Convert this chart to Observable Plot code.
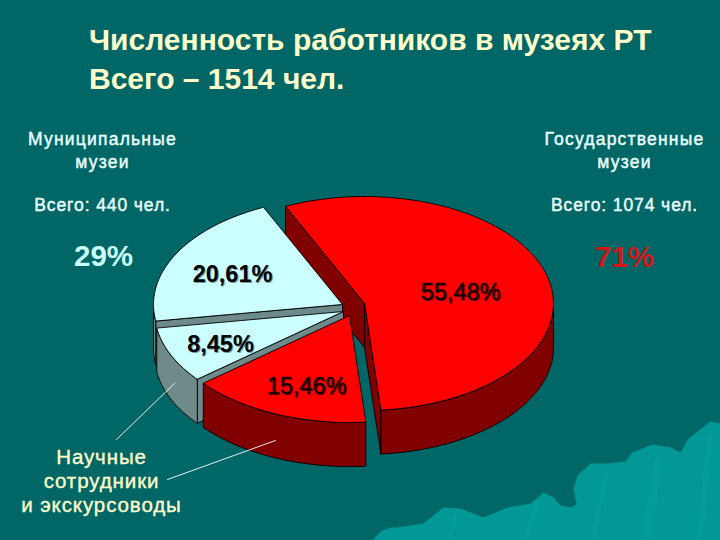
<!DOCTYPE html>
<html lang="ru">
<head>
<meta charset="utf-8">
<script src="https://cdn.jsdelivr.net/npm/d3@7"></script>
<script src="https://cdn.jsdelivr.net/npm/@observablehq/plot@0.6"></script>
<style>
html,body{margin:0;padding:0;width:720px;height:540px;overflow:hidden;background:#006666;}
h1{margin:0;padding:20px 0 0 89px;height:100px;box-sizing:border-box;font:bold 30px/39px "Liberation Sans",Arial,sans-serif;color:#ffffcc;letter-spacing:0;}
svg{display:block;}
.sp{letter-spacing:1.2px;}
.sp3{letter-spacing:.9px;}
.sp2{letter-spacing:.9px;}
</style>
</head>
<body>
<h1>Численность работников в музеях РТ<br>Всего – 1514 чел.</h1>
<div id="chart"></div>
<script>
// ---- chart values ----
const sliceLabels = ["55,48%", "15,46%", "8,45%", "20,61%"];
const sliceShares = [55.48, 15.46, 8.45, 20.61];
const sliceFamily = ["red", "red", "pale", "pale"];
const groupNames = ["Муниципальные\nмузеи", "Государственные\nмузеи"];
const groupTotals = ["Всего: 440 чел.", "Всего: 1074 чел."];
const groupPercents = ["29%", "71%"];
const note = ["Научные", "сотрудники", "и экскурсоводы"];

// ---- drawing layout (exploded 3-D pie) ----
const rx = 189, ry = 107, depth = 44, startDeg = -24.7;
const apexX = [364, 349, 343, 342];
const apexY = [303, 315, 311, 304];
const paintOrder = [0, 3, 2, 1];
const labelX = [460, 306, 220, 232];
const labelY = [299, 393, 351, 281];
const topColor = {red: "#ff0000", pale: "#ccffff"};
const wallColor = {red: "#800000", pale: "#6f8a8a"};
const mountainX = [372,380,390,397,423,443,460,470,483,507,530,543,553,560,570,576,573,577,590,607,625,632,652,670,680,688,710,720,720];
const mountainY = [540,531,527,527,523,507,508,512,517,507,503,492,497,505,507,504,488,475,463,463,461,452,444,447,452,438,421,423,540];
const ridgeX = [[445,455,458,449,438],[522,535,540,528,520],[590,604,608,594,580],[640,655,662,650,635],[695,708,712,702,690]];
const ridgeY = [[540,510,514,540,540],[540,498,502,540,540],[540,470,474,540,540],[540,456,462,540,540],[540,430,436,540,540]];

// ---- geometry computed from the shares ----
const rad = d => d * Math.PI / 180;
const arcs = d3.pie().sort(null).value(d => d)
  .startAngle(rad(startDeg)).endAngle(rad(startDeg + 360))(sliceShares);
const pt = (i, a, dy = 0) => ({x: apexX[i] + rx * Math.sin(a), y: apexY[i] - ry * Math.cos(a) + dy});
const arcPts = (i, a0, a1, dy = 0) => {
  const n = Math.max(2, Math.ceil(Math.abs(a1 - a0) / rad(1.5)));
  return d3.range(n + 1).map(k => pt(i, a0 + (a1 - a0) * k / n, dy));
};
const poly = (points, fill, strokeWidth = 0.9) =>
  Plot.line([...points, points[0]], {x: "x", y: "y", fill, stroke: "#000", strokeWidth, curve: "linear"});

const pieMarks = [];
paintOrder.forEach(i => {
  const s = arcs[i];
  const fam = sliceFamily[i], wall = wallColor[fam], top = topColor[fam];
  const c = {x: apexX[i], y: apexY[i]}, cb = {x: apexX[i], y: apexY[i] + depth};
  // a cut face shows only when it faces the viewer
  if (Math.sin(s.startAngle) < 0) pieMarks.push(poly([c, pt(i, s.startAngle), pt(i, s.startAngle, depth), cb], wall));
  if (Math.sin(s.endAngle) > 0) pieMarks.push(poly([c, pt(i, s.endAngle), pt(i, s.endAngle, depth), cb], wall));
  const lo = Math.max(s.startAngle, rad(90)), hi = Math.min(s.endAngle, rad(270));
  if (hi > lo) {
    pieMarks.push(poly([...arcPts(i, lo, hi), ...arcPts(i, hi, lo, depth)], wall));
  }
  pieMarks.push(poly([c, ...arcPts(i, s.startAngle, s.endAngle)], top));
});

const font = '"Liberation Sans", Arial, sans-serif';
const txt = (text, x, y, o = {}) => Plot.text([text], {
  text: d => d, x: () => x, y: () => y, textAnchor: "middle", lineAnchor: "bottom",
  fontFamily: font, ...o
});
const mountain = d3.range(mountainX.length).map(i => ({x: mountainX[i], y: mountainY[i]}));
const ridges = ridgeX.map((xs, r) => xs.map((x, i) => ({x, y: ridgeY[r][i]})));
const fillOnly = (pts, fill, fillOpacity = 1) => Plot.line([...pts, pts[0]], {x: "x", y: "y", fill, fillOpacity, stroke: "none", curve: "linear"});

const plot = Plot.plot({
  width: 720, height: 440,
  margin: 0,
  x: {domain: [0, 720], range: [0, 720], axis: null},
  y: {domain: [100, 540], range: [0, 440], axis: null},
  style: {background: "transparent", fontFamily: font, overflow: "hidden"},
  marks: [
    fillOnly(mountain, "#019896"),
    ...ridges.map(r => fillOnly(r, "#0aa3a0", 0.35)),
    ...pieMarks,
    // slice labels
    ...sliceLabels.flatMap((t, i) => {
      const red = sliceFamily[i] === "red";
      return [
        txt(t, labelX[i] + 1, labelY[i] + 1, {fontSize: 23.5, fontWeight: red ? "normal" : "bold",
          fill: red ? "#700000" : "#7a9a9a"}),
        txt(t, labelX[i], labelY[i], {fontSize: 23.5, fontWeight: red ? "normal" : "bold",
          fill: red ? "#1a0000" : "#000", stroke: red ? "#1a0000" : "none", strokeWidth: red ? 0.4 : 0})
      ];
    }),
    // group captions
    txt(groupNames[0], 102, 167, {fontSize: 17.5, fill: "#eaffff", className: "sp", lineHeight: 1.27, stroke: "#eaffff", strokeWidth: .45}),
    txt(groupNames[1], 624, 167, {fontSize: 17.5, fill: "#eaffff", className: "sp", lineHeight: 1.27, stroke: "#eaffff", strokeWidth: .45}),
    txt(groupTotals[0], 102, 210, {fontSize: 17.5, fill: "#eaffff", className: "sp3", stroke: "#eaffff", strokeWidth: .45}),
    txt(groupTotals[1], 624, 210, {fontSize: 17.5, fill: "#eaffff", className: "sp3", stroke: "#eaffff", strokeWidth: .45}),
    txt(groupPercents[0], 103, 265, {fontSize: 29.5, fontWeight: "bold", fill: "#ccffff"}),
    txt(groupPercents[1], 624, 266, {fontSize: 29.5, fontWeight: "bold", fill: "#d01818"}),
    // note
    ...note.map((t, i) => txt(t, 101, [463, 487, 511][i], {fontSize: 20.5, fill: "#ffffcc", className: "sp2", stroke: "#ffffcc", strokeWidth: .35})),
    // leader lines
    Plot.line([{x: 116, y: 439}, {x: 174, y: 383}], {x: "x", y: "y", stroke: "#fff", strokeWidth: .9, curve: "linear"}),
    Plot.line([{x: 167, y: 479}, {x: 275, y: 440}], {x: "x", y: "y", stroke: "#fff", strokeWidth: .9, curve: "linear"})
  ]
});
document.getElementById("chart").appendChild(plot);
</script>
</body>
</html>
